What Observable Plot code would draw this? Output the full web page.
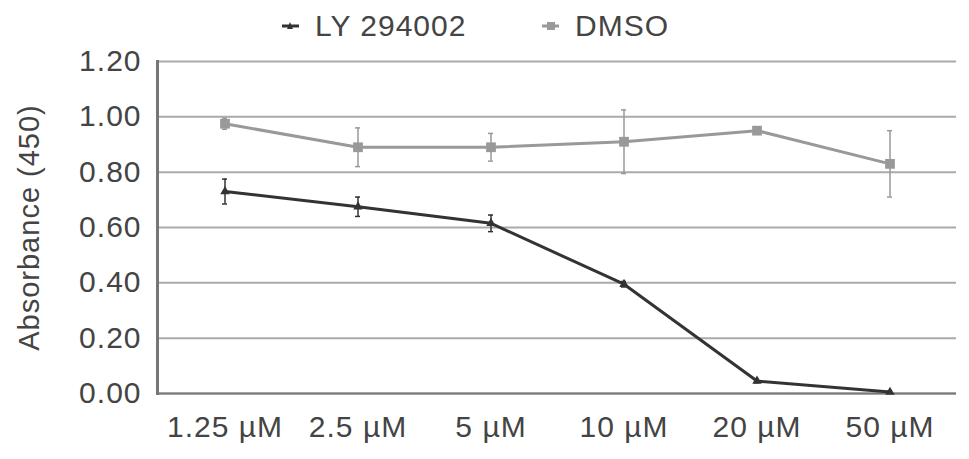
<!DOCTYPE html>
<html><head><meta charset="utf-8">
<script src="https://cdn.jsdelivr.net/npm/d3@7"></script>
<script src="https://cdn.jsdelivr.net/npm/@observablehq/plot@0.6"></script>
<style>
body{margin:0;background:#fff;font-family:"Liberation Sans",Arial,sans-serif;}
#legend{height:44px;position:relative;font-size:30px;color:#444;letter-spacing:1px;}
.item{position:absolute;display:flex;align-items:center;top:6px;line-height:40px;}
.item svg{margin-right:16px;}
</style></head>
<body>
<div id="legend"></div>
<div id="chart"></div>
<script>
const concentrations = ["1.25 µM", "2.5 µM", "5 µM", "10 µM", "20 µM", "50 µM"];
const lyValues = [0.73, 0.675, 0.615, 0.395, 0.045, 0.005];
const lyErrors = [0.045, 0.035, 0.03, 0.01, 0.006, 0.004];
const dmsoValues = [0.975, 0.89, 0.89, 0.91, 0.95, 0.83];
const dmsoErrors = [0.02, 0.07, 0.05, 0.115, 0.008, 0.12];
const yTicks = [0, 0.2, 0.4, 0.6, 0.8, 1.0, 1.2];
const seriesNames = ["LY 294002", "DMSO"];
const seriesColors = ["#333333", "#999999"];

const rows = [];
concentrations.forEach((c, i) => {
  rows.push({series: seriesNames[0], conc: c, v: lyValues[i], e: lyErrors[i]});
  rows.push({series: seriesNames[1], conc: c, v: dmsoValues[i], e: dmsoErrors[i]});
});
const ly = rows.filter(d => d.series === seriesNames[0]);
const dm = rows.filter(d => d.series === seriesNames[1]);

// legend
const leg = document.getElementById("legend");
[[seriesNames[0], seriesColors[0], 282, "tri"], [seriesNames[1], seriesColors[1], 542, "sq"]].forEach(([name, col, x, sym]) => {
  const it = document.createElement("div");
  it.className = "item";
  it.style.left = x + "px";
  const mk = sym === "tri"
    ? `<polygon points="8,2 11,9 5,9" fill="${col}"/>`
    : `<rect x="5" y="2" width="8" height="8" fill="${col}"/>`;
  it.innerHTML = `<svg width="17" height="12"><line x1="0" x2="17" y1="6" y2="6" stroke="${col}" stroke-width="3"/>${mk}</svg><span>${name}</span>`;
  leg.appendChild(it);
});

const chart = Plot.plot({
  width: 969,
  height: 415,
  marginTop: 17,
  marginBottom: 66,
  marginLeft: 157,
  marginRight: 13,
  style: {fontFamily: "Liberation Sans, Arial, sans-serif", fontSize: "30px", color: "#444", background: "#fff", letterSpacing: "1px"},
  x: {type: "band", domain: concentrations, padding: 0, label: null},
  y: {domain: [0, 1.2], ticks: yTicks, label: null, tickFormat: d3.format(".2f")},
  marks: [
    Plot.gridY(yTicks, {stroke: "#aaa", strokeOpacity: 1, strokeWidth: 2}),
    Plot.ruleY([0], {stroke: "#777", strokeWidth: 2}),
    Plot.frame({anchor: "left", stroke: "#777", strokeWidth: 3}),
    Plot.axisY({ticks: yTicks, tickSize: 0, tickPadding: 16, tickFormat: d3.format(".2f"), label: null, fill: "#444"}),
    Plot.axisX({tickSize: 0, tickPadding: 22, label: null, fill: "#444"}),
    Plot.text(["Absorbance (450)"], {frameAnchor: "left", textAnchor: "middle", dx: -128, rotate: -90, fill: "#444", fontSize: 29}),
    // error bars
    Plot.ruleX(rows, {x: "conc", y1: d => d.v - d.e, y2: d => d.v + d.e, stroke: "series", strokeWidth: 1.5}),
    Plot.tickY(rows, {x: "conc", y: d => d.v + d.e, stroke: "series", strokeWidth: 1.5, insetLeft: 64, insetRight: 64}),
    Plot.tickY(rows, {x: "conc", y: d => d.v - d.e, stroke: "series", strokeWidth: 1.5, insetLeft: 64, insetRight: 64}),
    // lines
    Plot.lineY(dm, {x: "conc", y: "v", stroke: seriesColors[1], strokeWidth: 3}),
    Plot.lineY(ly, {x: "conc", y: "v", stroke: seriesColors[0], strokeWidth: 3}),
    Plot.dot(dm, {x: "conc", y: "v", symbol: "square", r: 5.5, fill: seriesColors[1], stroke: "none"}),
    Plot.dot(ly, {x: "conc", y: "v", symbol: "triangle", r: 3.5, fill: seriesColors[0], stroke: "none"})
  ],
  color: {domain: seriesNames, range: seriesColors}
});
document.getElementById("chart").appendChild(chart);
</script>
</body></html>
